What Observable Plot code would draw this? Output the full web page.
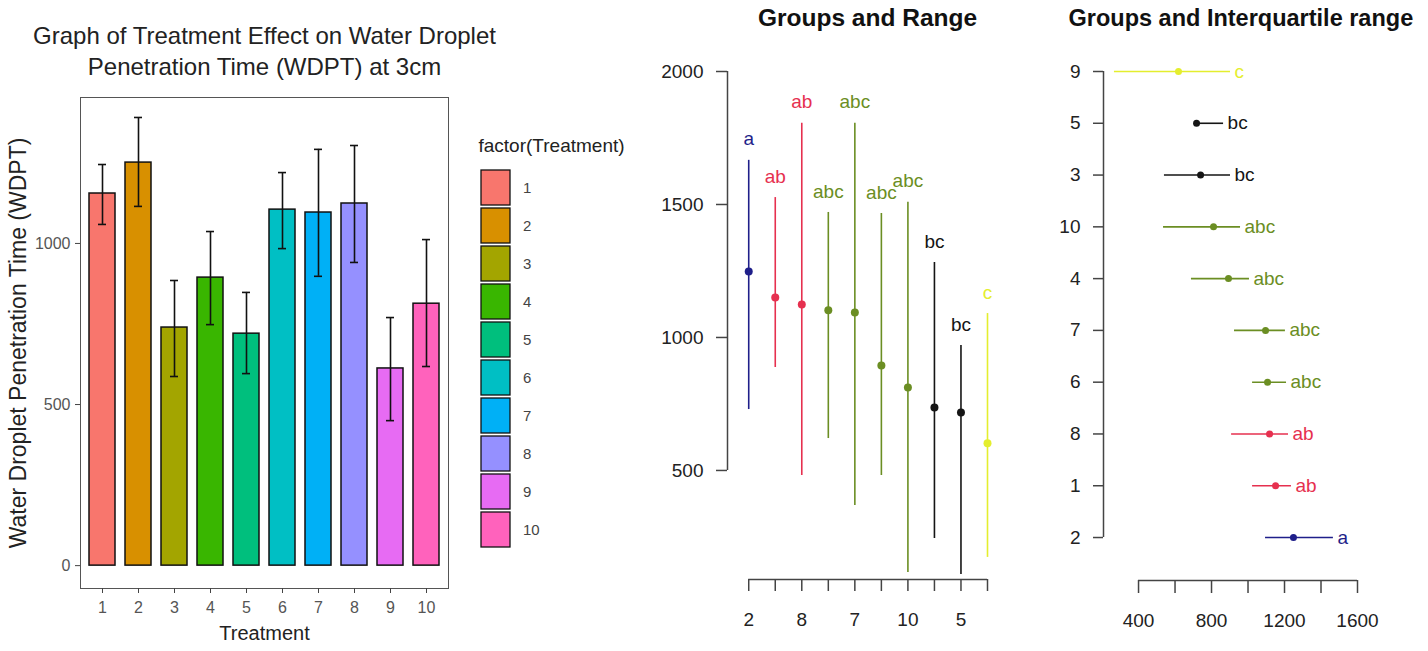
<!DOCTYPE html>
<html><head><meta charset="utf-8">
<script src="https://cdn.jsdelivr.net/npm/d3@7"></script>
<script src="https://cdn.jsdelivr.net/npm/@observablehq/plot@0.6"></script>
<style>
html,body{margin:0;padding:0;background:#fff;}
#root{position:relative;width:1428px;height:651px;overflow:hidden;display:flex;background:#fff;}
#root > div{flex:none;height:651px;}
</style></head><body>
<div id="root">
<div id="p1" style="width:460px"></div>
<div id="leg" style="width:190px"></div>
<div id="p2" style="width:390px"></div>
<div id="p3" style="width:388px;overflow:hidden"></div>
</div>
<script>
// ---- Panel 1: bar chart data ----
const treatments = ["1","2","3","4","5","6","7","8","9","10"];
const meanWDPT  = [1155,1251,739,894,720,1105,1096,1124,612,813];
const errLow    = [1059,1115,587,748,596,984,898,941,450,618];
const errHigh   = [1245,1391,885,1037,848,1220,1292,1304,770,1012];
const fillColors = ["#F8766D","#D89000","#A3A500","#39B600","#00BF7D","#00BFC4","#00B0F6","#9590FF","#E76BF3","#FF62BC"];

// ---- Panels 2 & 3: groups ----
const rangeOrder  = ["2","1","8","6","7","4","10","3","5","9"];
const rangeGroups = ["a","ab","ab","abc","abc","abc","abc","bc","bc","c"];
const rangeMin  = [729,887,481,620,368,481,116,244,109,173];
const rangeMax  = [1666,1526,1805,1470,1805,1466,1508,1282,970,1090];
const rangeMean = [1248,1150,1124,1102,1094,895,812,737,718,602];
const iqrLow  = [1096,1025,910,1025,926,690,537,542,718,268];
const iqrHigh = [1468,1238,1222,1211,1205,1008,959,904,866,904];
const iqrMid  = [1249,1151,1118,1107,1096,893,811,740,718,619];
const groupNames  = ["a","ab","abc","bc","c"];
const groupColors = ["#1f1f8a","#e6304f","#6b8e23","#151515","#e4ee2e"];

const yTicks1 = [0,500,1000];
const yTicks2 = [500,1000,1500,2000];
const xTicks3 = [400,600,800,1000,1200,1400,1600];
const xLabels3 = [400,800,1200,1600];

const font = "'Liberation Sans', Arial, Helvetica, sans-serif";
const baseStyle = {fontFamily: font, background: "transparent", overflow: "visible", color: "#222"};
const gcol = g => groupColors[groupNames.indexOf(g)];
const plain = d => String(d);

const barData = treatments.map((t,i)=>({t, mean: meanWDPT[i], lo: errLow[i], hi: errHigh[i], c: fillColors[i]}));
const grpData = rangeOrder.map((t,i)=>({t, i: i+1, g: rangeGroups[i], lo: rangeMin[i], hi: rangeMax[i], m: rangeMean[i],
  qlo: iqrLow[i], qhi: iqrHigh[i], qm: iqrMid[i], c: gcol(rangeGroups[i])}));

// Panel 1
const p1 = Plot.plot({
  width: 460, height: 651,
  marginLeft: 80, marginRight: 12, marginTop: 97, marginBottom: 63,
  style: baseStyle,
  x: {type: "band", domain: treatments, paddingInner: 0.28, paddingOuter: 0.22},
  y: {domain: [-71, 1453]},
  color: {type: "identity"},
  marks: [
    Plot.barY(barData, {x: "t", y: "mean", fill: "c", stroke: "#111", strokeWidth: 1.5}),
    Plot.ruleX(barData, {x: "t", y1: "lo", y2: "hi", stroke: "#111", strokeWidth: 1.6}),
    Plot.tickY(barData, {x: "t", y: "hi", stroke: "#111", strokeWidth: 1.6, insetLeft: 9, insetRight: 9}),
    Plot.tickY(barData, {x: "t", y: "lo", stroke: "#111", strokeWidth: 1.6, insetLeft: 9, insetRight: 9}),
    Plot.frame({stroke: "#555", strokeWidth: 1}),
    Plot.axisY({ticks: yTicks1, tickFormat: plain, tickSize: 5, tickPadding: 5, fontSize: 16, color: "#555", stroke: "#444", label: null}),
    Plot.axisX({tickSize: 5, tickPadding: 8, fontSize: 16, color: "#555", stroke: "#444", label: null}),
    Plot.text(["Graph of Treatment Effect on Water Droplet"], {text: d => d, frameAnchor: "top", lineAnchor: "middle", dy: -61, fontSize: 24, fill: "#222"}),
    Plot.text(["Penetration Time (WDPT) at 3cm"], {text: d => d, frameAnchor: "top", lineAnchor: "middle", dy: -30, fontSize: 24, fill: "#222"}),
    Plot.text(["Water Droplet Penetration Time (WDPT)"], {text: d => d, frameAnchor: "left", textAnchor: "middle", lineAnchor: "middle", dx: -62, rotate: -90, fontSize: 23, fill: "#222"}),
    Plot.text(["Treatment"], {text: d => d, frameAnchor: "bottom", lineAnchor: "middle", dy: 45, fontSize: 20, fill: "#222"})
  ]
});
document.getElementById("p1").append(p1);

// Legend
const leg = Plot.plot({
  width: 190, height: 651, margin: 0,
  style: baseStyle,
  x: {type: "band", domain: ["key"], range: [21, 50], padding: 0, axis: null},
  y: {type: "band", domain: treatments, range: [167, 551], paddingInner: 0.07, paddingOuter: 0, axis: null},
  color: {type: "identity"},
  marks: [
    Plot.cell(barData, {x: () => "key", y: "t", fill: "c", stroke: "#111", strokeWidth: 1.3}),
    Plot.text(barData, {x: () => "key", y: "t", text: "t", dx: 27, textAnchor: "start", fontSize: 15, fill: "#444"}),
    Plot.text(["factor(Treatment)"], {text: d => d, frameAnchor: "top-left", dx: 18, dy: 145, textAnchor: "start", lineAnchor: "middle", fontSize: 19, fill: "#222"})
  ]
});
document.getElementById("leg").append(leg);

// Panel 2: Groups and Range
const p2 = Plot.plot({
  width: 390, height: 651,
  marginLeft: 77, marginRight: 20, marginTop: 0, marginBottom: 72,
  style: baseStyle,
  x: {domain: [0.2, 10], range: [77, 337]},
  y: {domain: [90, 2000], range: [579, 71]},
  color: {type: "identity"},
  marks: [
    Plot.ruleX([0.2], {y1: yTicks2[0], y2: yTicks2[yTicks2.length-1], stroke: "#444", strokeWidth: 1.5}),
    Plot.ruleY([90], {x1: 1, x2: 10, stroke: "#444", strokeWidth: 1.5}),
    Plot.axisY({ticks: yTicks2, tickFormat: plain, tickSize: 11, tickPadding: 13, fontSize: 19, color: "#222", stroke: "#444", strokeWidth: 1.5, label: null}),
    Plot.axisX({ticks: d3.range(1, 11), tickFormat: i => (i % 2 === 1 ? rangeOrder[i-1] : ""), tickSize: 12, tickPadding: 21, fontSize: 19, color: "#222", stroke: "#444", strokeWidth: 1.5, label: null}),
    Plot.ruleX(grpData, {x: "i", y1: "lo", y2: "hi", stroke: "c", strokeWidth: 1.6}),
    Plot.dot(grpData, {x: "i", y: "m", r: 4, fill: "c"}),
    Plot.text(grpData, {x: "i", y: "hi", text: "g", dy: -21, fill: "c", fontSize: 19}),
    Plot.text(["Groups and Range"], {text: d => d, frameAnchor: "top-left", textAnchor: "middle", lineAnchor: "middle", dx: 140, dy: 18, fontSize: 24.5, fontWeight: "bold", fill: "#111"})
  ]
});
document.getElementById("p2").append(p2);

// Panel 3: Groups and Interquartile range
const p3 = Plot.plot({
  width: 388, height: 651,
  marginLeft: 63, marginRight: 0, marginTop: 0, marginBottom: 71,
  style: baseStyle,
  x: {domain: [208, 1600], range: [63, 317]},
  y: {domain: [0.17, 10], range: [580, 71]},
  color: {type: "identity"},
  marks: [
    Plot.ruleX([208], {y1: 1, y2: 10, stroke: "#444", strokeWidth: 1.5}),
    Plot.ruleY([0.17], {x1: xTicks3[0], x2: xTicks3[xTicks3.length-1], stroke: "#444", strokeWidth: 1.5}),
    Plot.axisY({ticks: d3.range(1, 11), tickFormat: i => rangeOrder[i-1], tickSize: 10, tickPadding: 13, fontSize: 19, color: "#222", stroke: "#444", strokeWidth: 1.5, label: null}),
    Plot.axisX({ticks: xTicks3, tickFormat: v => (xLabels3.includes(v) ? String(v) : ""), tickSize: 13, tickPadding: 20, fontSize: 19, color: "#222", stroke: "#444", strokeWidth: 1.5, label: null}),
    Plot.ruleY(grpData, {y: "i", x1: "qlo", x2: "qhi", stroke: "c", strokeWidth: 1.6}),
    Plot.dot(grpData, {x: "qm", y: "i", r: 3.5, fill: "c"}),
    Plot.text(grpData, {x: "qhi", y: "i", text: "g", dx: 4, textAnchor: "start", fill: "c", fontSize: 19}),
    Plot.text(["Groups and Interquartile range"], {text: d => d, frameAnchor: "top-left", dx: -35, dy: 18, textAnchor: "start", lineAnchor: "middle", fontSize: 23.5, fontWeight: "bold", fill: "#111"})
  ]
});
document.getElementById("p3").append(p3);
</script>
</body></html>
